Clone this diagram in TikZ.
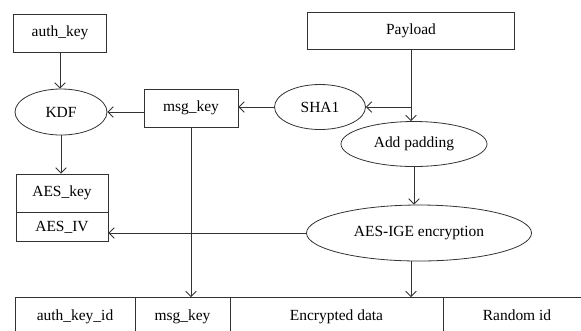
\documentclass[tikz,border=0pt]{standalone}
\usepackage{fontspec}
\setmainfont{Liberation Serif}
\usetikzlibrary{shapes,arrows.meta,positioning,calc}
\newlength{\pxu}\setlength{\pxu}{0.75pt}

\begin{document}
\begin{tikzpicture}[
  x=0.75pt,y=-0.75pt,
  font=\fontsize{11.6}{13}\selectfont,
  box/.style={rectangle,draw=black!80,line width=0.6pt,inner sep=0pt,align=center},
  oval/.style={ellipse,draw=black!80,line width=0.6pt,inner sep=0pt,align=center},
  cell/.style={rectangle,draw=black!80,line width=0.6pt,inner sep=0pt,outer sep=0pt,
               minimum height=40\pxu,text height=8pt,text depth=2.5pt},
  line/.style={line width=0.6pt,black!80},
  arrow/.style={-{Straight Barb[length=4pt,width=8pt]},line width=0.6pt,black!80}
]
\useasboundingbox (0,0) rectangle (581,330);
\clip (0,0) rectangle (581,330);

% ===== KEY DERIVATION =====
\node[box,minimum width=93\pxu,minimum height=38\pxu] (authkey) at (60,33) {auth\_key};
\node[oval,minimum width=92\pxu,minimum height=46\pxu] (kdf) at (61,112) {KDF};
\node[box,minimum width=94\pxu,minimum height=38\pxu] (msgkey) at (191,108) {msg\_key};
\node[box,minimum width=92\pxu,minimum height=38\pxu] (aeskey) at (62,193) {AES\_key};
\node[box,minimum width=92\pxu,minimum height=29\pxu,below=0pt of aeskey] (aesiv) {AES\_IV};

% ===== PAYLOAD PATH =====
\node[box,minimum width=207\pxu,minimum height=37\pxu] (payload) at (411,30.5) {Payload};
\node[oval,minimum width=91\pxu,minimum height=45\pxu] (sha1) at (320,107) {SHA1};
\node[oval,minimum width=146\pxu,minimum height=45\pxu] (addpad) at (414,144) {Add padding};
\node[oval,minimum width=225\pxu,minimum height=56\pxu] (aesige) at (419,233) {AES-IGE encryption};
\coordinate (split) at (payload.south |- sha1.east);

% ===== MESSAGE LAYOUT =====
\node[cell,minimum width=120\pxu,anchor=north west] (idcell) at (15,297) {auth\_key\_id};
\node[cell,minimum width=95\pxu,right=0pt of idcell] (mkcell) {msg\_key};
\node[cell,minimum width=213\pxu,right=0pt of mkcell] (datacell) {Encrypted data};
\node[cell,minimum width=148\pxu,right=0pt of datacell] (randcell) {Random id};

% ===== CONNECTIONS =====
\draw[arrow] (authkey.south) -- (authkey.south |- kdf.north);
\draw[arrow] (kdf.east -| msgkey.west) -- (kdf.east);
\draw[arrow] (sha1.west) -- (sha1.west -| msgkey.east);
\draw[line] (payload.south) -- (split);
\draw[arrow] (split) -- (sha1.east);
\draw[arrow] (split) -- (split |- addpad.north);
\draw[arrow] (addpad.south) -- (addpad.south |- aesige.north);
\draw[arrow] (kdf.south) -- (kdf.south |- aeskey.north);
\draw[arrow] (aesige.west) -- (aesige.west -| aesiv.east);
\draw[arrow] (msgkey.south) -- (msgkey.south |- mkcell.north);
\draw[arrow] (aesige.south -| split) -- (split |- datacell.north);

\end{tikzpicture}
\end{document}
